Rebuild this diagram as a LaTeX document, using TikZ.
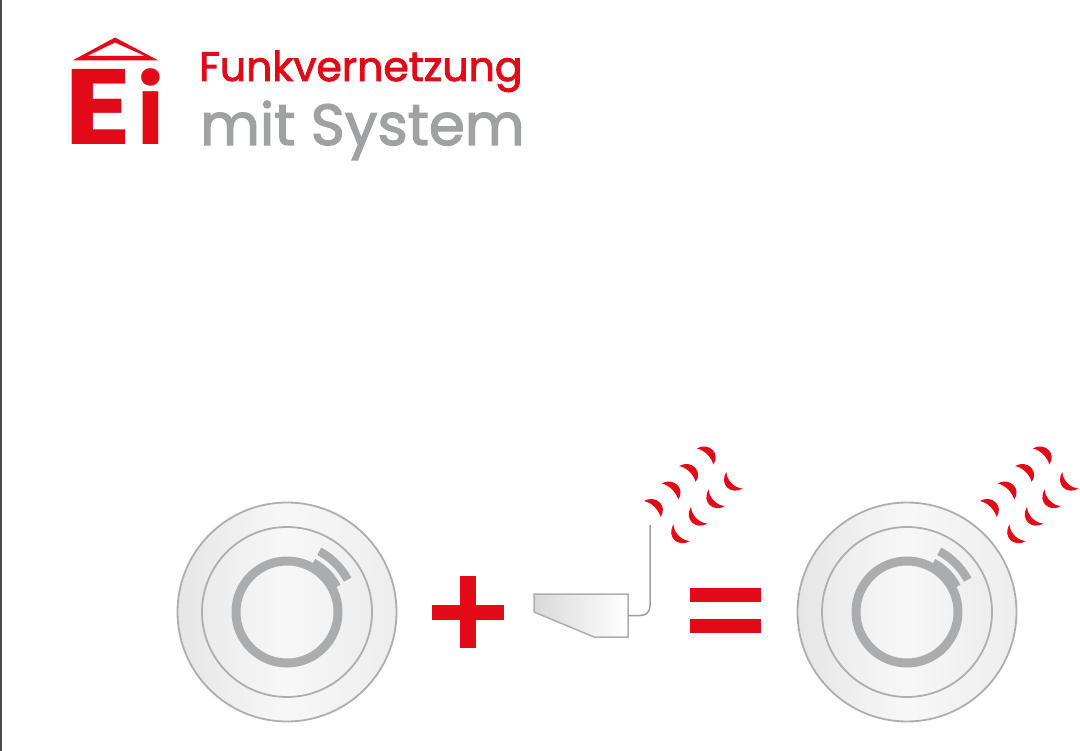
\documentclass[tikz,border=0pt]{standalone}
\usepackage{fontspec}
\setmainfont{Poppins}
\newfontfamily\sloganfont[FakeBold=2.2]{Poppins}
\newfontfamily\logofont{Poppins Bold}
\definecolor{eired}{HTML}{E30A18}
\definecolor{eigrey}{HTML}{A0A1A3}
\definecolor{ringgrey}{HTML}{ABACAE}
\definecolor{rimgrey}{HTML}{ADAEAE}
\tikzset{
  signal/.style={fill=eired,draw=none},
  symbolbar/.style={fill=eired,draw=none},
  rim/.style={draw=rimgrey,line width=1.8pt,left color=black!#1,right color=black!7,middle color=black!3},
  rim/.default={10},
  slogan/.style={inner sep=0pt,anchor=base west},
  logoletter/.style={inner sep=0pt,text=eired,font=\logofont\fontsize{107}{107}\selectfont},
}
% One smoke detector: base plate, inner plate, sensor ring and its raised segment
\newcommand{\detector}[2]{%
  \begin{scope}[shift={(#1,#2)}]
    \path[rim] (0,0) circle[radius=109.5];
    \path[rim=8] (0,0) circle[radius=85];
    \fill[ringgrey,even odd rule] (0,0) circle[radius=55.5] (0,0) circle[radius=46.5];
    \fill[ringgrey] (-27:50) -- (-27:60) arc[start angle=-27,end angle=-62,radius=60] -- (-62:50) arc[start angle=-62,end angle=-27,radius=50] -- cycle;
    \fill[ringgrey] (-28:64.5) -- (-28:73) arc[start angle=-28,end angle=-62,radius=73] -- (-62:64.5) arc[start angle=-62,end angle=-28,radius=64.5] -- cycle;
  \end{scope}}
% Radio waves: a row of four crescents opening one way and four opening the other
\newcommand{\crescents}[2]{%
  \begin{scope}[shift={(#1,#2)}]
    \foreach \i in {0,1,2,3} {
      \begin{scope}[shift={(17.6*\i,-17.5*\i)}]
        \fill[signal] (644,501) .. controls (657,494) and (668,507) .. (660.5,517)
          .. controls (659,511) and (653,503) .. cycle;
        \fill[signal] (673.5,524.5) .. controls (666,537) and (678,548) .. (690,541)
          .. controls (683,541) and (674,534) .. cycle;
      \end{scope}
    }
  \end{scope}}
\begin{document}
\begin{tikzpicture}[x=1pt,y=-1pt]
  \useasboundingbox (0,0) rectangle (1080,751);
  \fill[white] (0,0) rectangle (1080,751);
  \fill[black!70] (0,0) rectangle (1.5,751);

  % Logo
  \fill[eired,even odd rule] (72.5,60.5) -- (115,37.5) -- (158.5,60.5) -- cycle
    (87,56) -- (115,42.5) -- (145,56) -- cycle;
  \node[logoletter,anchor=base west] (logoe) at (64.4,145) {\scalebox{1.16}[1]{E}};
  \node[logoletter,anchor=base] (logoi) at (150.8,145) {\scalebox{0.85}[0.885]{i}};

  % Slogan
  \node[slogan,text=eired] (line1) at (199,81) {\sloganfont\fontsize{41}{41}\selectfont Funkvernetzung};
  \node[slogan,text=eigrey] (line2) at (200,145) {\sloganfont\fontsize{58}{58}\selectfont mit System};

  % Equation
  \detector{287}{612}
  \fill[symbolbar] (432,605) rectangle (504,620);
  \fill[symbolbar] (460,576) rectangle (476,648);

  \path[draw=rimgrey,line width=1.5pt,left color=black!15,right color=white] (534,594) -- (628,594) -- (628,637) -- (594,637) -- (534,612) -- cycle;
  \draw[rimgrey!90!black,line width=1.5pt] (628,615.5) -- (640,615.5) .. controls (646,615.5) and (650,612) .. (650,606) -- (650,525);

  \fill[symbolbar] (690,588) rectangle (761,602);
  \fill[symbolbar] (690,619) rectangle (761,633);

  \detector{907}{612}
  \crescents{0}{0}
  \crescents{336}{0}
\end{tikzpicture}
\end{document}
